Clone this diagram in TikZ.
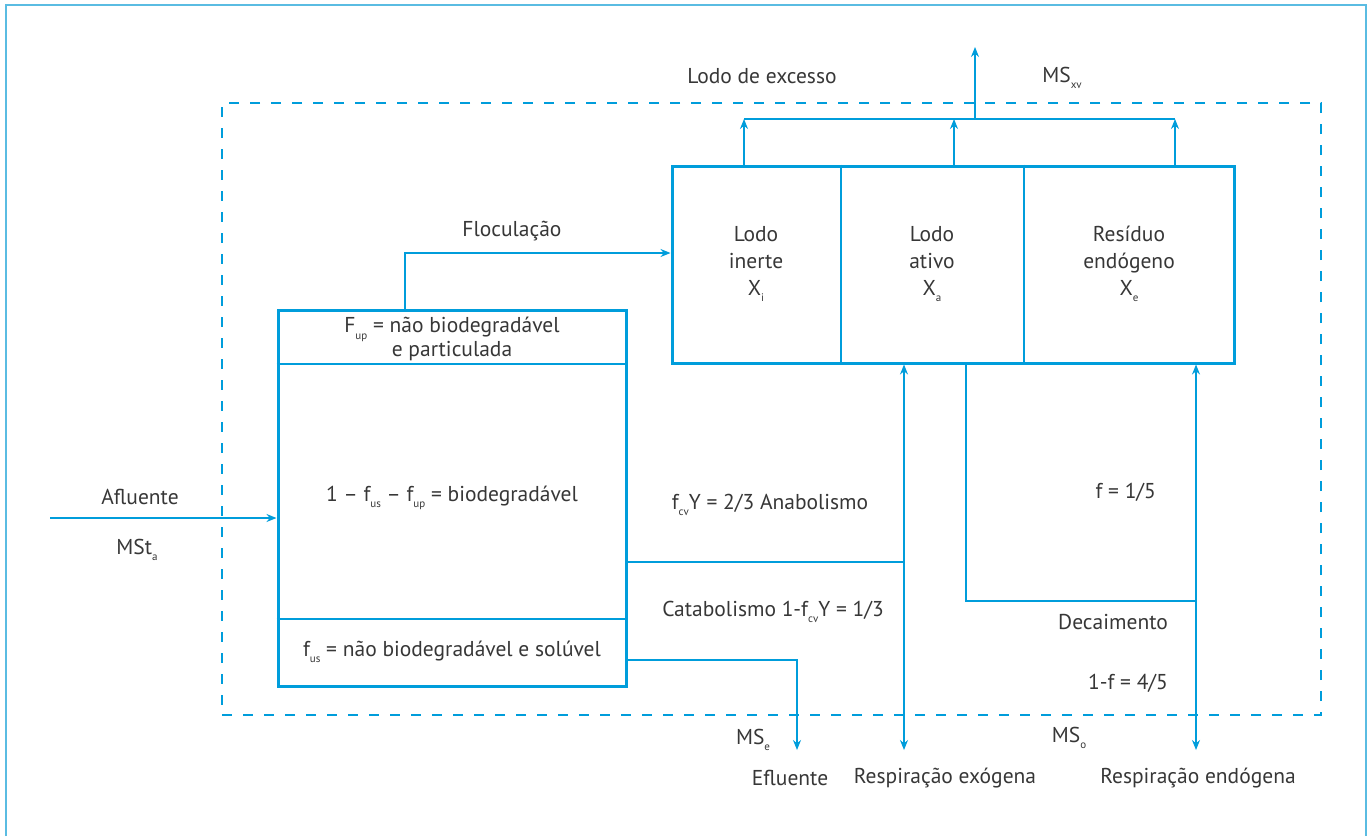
\documentclass[tikz,border=0pt]{standalone}
\usepackage{fontspec}
\setmainfont{PT Sans}
\usepackage{xcolor}
\usetikzlibrary{arrows.meta, positioning}

\definecolor{flowblue}{RGB}{0,157,219}
\definecolor{frameblue}{RGB}{90,188,226}
\definecolor{txtgray}{RGB}{55,55,55}
\newcommand{\low}[1]{\raisebox{-0.6ex}{\fontsize{11}{11}\selectfont #1}}

\tikzset{
  flow/.style={draw=flowblue, line width=1.2pt},
  thickbox/.style={draw=flowblue, line width=3pt, inner sep=0pt},
  lbl/.style={text=txtgray, align=center, inner sep=1pt},
}

\begin{document}
\begin{tikzpicture}[x=1pt, y=-1pt, >={Stealth[length=10pt,width=8pt]},
    font=\fontsize{21.5}{27}\selectfont]
    \useasboundingbox (0,0) rectangle (1370,836);
    % Frame and control volume
    \draw[frameblue, line width=2pt] (6,836) -- (6,5) -- (1366,5) -- (1366,836);
    \node[draw=flowblue, line width=1.2pt, dash pattern=on 10pt off 11pt,
          minimum width=1099pt, minimum height=612pt] (cv) at (771.5,409) {};

    % Boxes
    \node[thickbox, minimum width=348pt, minimum height=376pt] (afl) at (452,498) {};
    \node[thickbox, minimum width=562pt, minimum height=197pt] (lodo) at (953,264.5) {};
    \coordinate (d1) at (0,364);
    \coordinate (d2) at (0,619);
    \draw[flow] (afl.west |- d1) -- (afl.east |- d1);
    \draw[flow] (afl.west |- d2) -- (afl.east |- d2);
    \coordinate (v1) at (841,0);
    \coordinate (v2) at (1024,0);
    \draw[flow] (lodo.north -| v1) -- (lodo.south -| v1);
    \draw[flow] (lodo.north -| v2) -- (lodo.south -| v2);

    % Box texts
    \node[lbl] (fup) at (452,339) {F\low{up} = não biodegradável\\[-3pt]e particulada};
    \node[lbl] (bio) at (452,498) {1 – f\low{us} – f\low{up} = biodegradável};
    \node[lbl] (fus) at (452,652) {f\low{us} = não biodegradável e solúvel};
    \node[lbl] (xi) at (756,264) {Lodo\\inerte\\X\low{i}};
    \node[lbl] (xa) at (932,264) {Lodo\\ativo\\X\low{a}};
    \node[lbl] (xe) at (1129,264) {Resíduo\\endógeno\\X\low{e}};

    % Influent
    \coordinate (ent) at (50,518);
    \draw[flow, ->] (ent) -- (ent -| afl.west);
    \node[lbl] (aflu) at (140,497) {Afluente};
    \node[lbl] (msta) at (137,550) {MSt\low{a}};

    % Flocculation
    \coordinate (floc) at (405,253);
    \draw[flow, ->] (afl.north -| floc) -- (floc) -- (floc -| lodo.west);
    \node[lbl] (flocl) at (512,231) {Floculação};

    % Excess sludge
    \coordinate (bar) at (975,119);
    \coordinate (exc) at (975,47);
    \foreach \x in {744,954,1175} {
        \coordinate (t) at (\x,0);
        \draw[flow, ->] (lodo.north -| t) -- (t |- bar);
    }
    \draw[flow] (744,119) -- (1175,119);
    \draw[flow, ->] (bar) -- (exc);
    \node[lbl] (lexc) at (762,76) {Lodo de excesso};
    \node[lbl] (msxv) at (1062,78) {MS\low{xv}};

    % Anabolism / catabolism
    \coordinate (ana) at (904,562);
    \coordinate (exo) at (904,750);
    \draw[flow] (ana -| afl.east) -- (ana);
    \draw[flow, <->] (lodo.south -| exo) -- (exo);
    \node[lbl] (anal) at (770,505) {f\low{cv}Y = 2/3 Anabolismo};
    \node[lbl] (catl) at (773,612) {Catabolismo 1-f\low{cv}Y = 1/3};

    % Decay
    \coordinate (dec) at (966,601);
    \coordinate (endo) at (1196,750);
    \draw[flow] (lodo.south -| dec) -- (dec) -- (dec -| endo);
    \draw[flow, <->] (lodo.south -| endo) -- (endo);
    \node[lbl, anchor=east] (fq) at (1157,492) {f = 1/5};
    \node[lbl, anchor=east] (decl) at (1169,622) {Decaimento};
    \node[lbl, anchor=east] (fr) at (1169,683) {1-f = 4/5};

    % Effluent
    \coordinate (sol) at (797,660);
    \coordinate (efl) at (797,750);
    \draw[flow, ->] (sol -| afl.east) -- (sol) -- (efl);
    \node[lbl] (mse) at (753,740) {MS\low{e}};
    \node[lbl] (mso) at (1069,738) {MS\low{o}};
    \node[lbl] (eflu) at (790,778) {Efluente};
    \node[lbl] (rexo) at (945,778) {Respiração exógena};
    \node[lbl] (rend) at (1198,778) {Respiração endógena};
\end{tikzpicture}
\end{document}
